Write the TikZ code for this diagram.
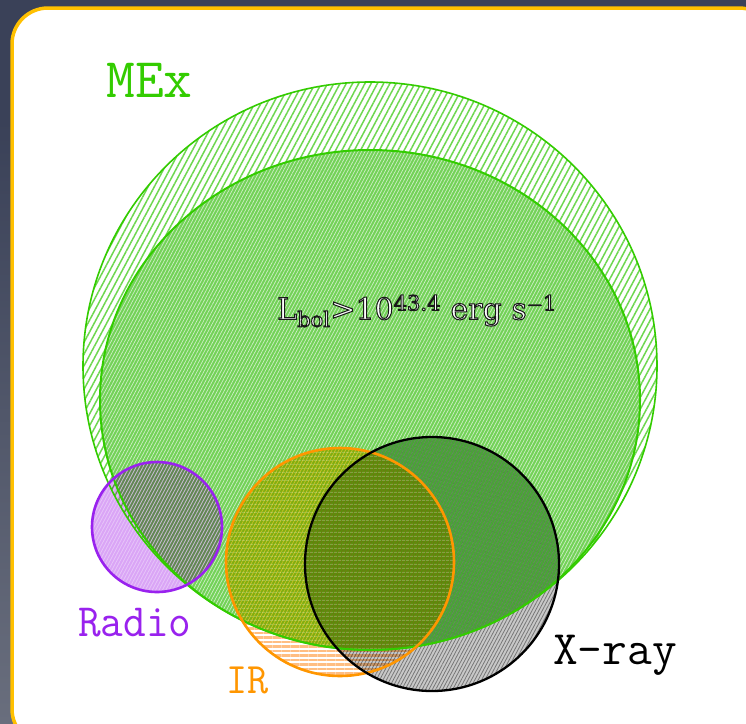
\documentclass[tikz,border=0pt]{standalone}
\usepackage{fontspec}
\usetikzlibrary{patterns.meta}
\newfontfamily\halofont{DejaVu Serif}
\definecolor{bgdark}{RGB}{58,65,88}
\definecolor{bglight}{RGB}{105,110,125}
\definecolor{panelborder}{RGB}{255,192,0}
\definecolor{megreen}{RGB}{51,204,0}
\definecolor{hatchgreen}{RGB}{110,215,80}
\definecolor{innergreen}{RGB}{115,210,88}
\definecolor{radiofill}{RGB}{218,165,246}
\definecolor{radioline}{RGB}{153,34,238}
\definecolor{irline}{RGB}{255,150,0}
\definecolor{irfill}{RGB}{255,215,60}
\definecolor{irtint}{RGB}{200,160,0}
\definecolor{irstripe}{RGB}{255,190,130}
\definecolor{xfill}{RGB}{200,200,200}
\definecolor{xin}{RGB}{165,200,160}
\tikzset{
  setline/.style={line width=2.6pt},
  lbl/.style={inner sep=0pt, anchor=base west},
  halo/.style={inner sep=0pt, text=white, font=\halofont\fontsize{30}{34}\selectfont},
  xhatch/.style={pattern={Lines[angle=62,distance=3pt,line width=0.8pt]}},
}
\newcommand{\lbltext}{L\textsubscript{bol}>10\textsuperscript{43.4} erg s\textsuperscript{$-$1}}
\newcommand{\outlined}[1]{\special{pdf:literal direct 2 Tr 1.0 w 1 1 1 rg 0.1 0.1 0.1 RG}#1\special{pdf:literal direct 0 Tr}}
\newcommand{\innerell}{(370,400) ellipse [x radius=270, y radius=250]}
\begin{document}
\begin{tikzpicture}[x=1pt,y=-1pt]
\useasboundingbox (0,0) rectangle (746,723);
% background
\fill[bgdark] (0,0) rectangle (746,723);
\shade[top color=bgdark, bottom color=bglight] (0,120) rectangle (14,723);
% panel
\draw[panelborder, line width=3.5pt, fill=white, rounded corners=36pt] (12,8) rectangle (775,745);

% outer MEx ellipse (hatched)
\path[pattern={Lines[angle=62,distance=5.5pt,line width=1.5pt]}, pattern color=hatchgreen]
  (370,366) ellipse [x radius=287, y radius=284];
% inner ellipse
\fill[innergreen] \innerell;
\path[pattern={Lines[angle=62,distance=3pt,line width=0.7pt]}, pattern color=white!65!innergreen] \innerell;

% overlapping sets
\begin{scope}[blend mode=multiply]
  \fill[radiofill] (157,527) circle [radius=65];
  % inside MEx
  \begin{scope}
    \clip \innerell;
    \fill[xin] (432,564) circle [radius=127];
    \path[xhatch, pattern color=black!25] (432,564) circle [radius=127];
    \fill[irfill] (340,562) circle [radius=114];
  \end{scope}
  % outside MEx
  \begin{scope}[even odd rule]
    \clip (0,0) rectangle (746,723) \innerell;
    \fill[xfill] (432,564) circle [radius=127];
    \path[xhatch, pattern color=black!40] (432,564) circle [radius=127];
    \path[pattern={Lines[angle=0,distance=4.5pt,line width=2.2pt]}, pattern color=irstripe]
      (340,562) circle [radius=114];
  \end{scope}
\end{scope}
\begin{scope}
  \clip \innerell;
  \fill[irtint, opacity=0.15] (340,562) circle [radius=114];
  \path[pattern={Lines[angle=0,distance=4pt,line width=1.2pt]}, pattern color=white, opacity=0.22]
    (340,562) circle [radius=114];
\end{scope}
\path[pattern={Lines[angle=62,distance=3pt,line width=0.8pt]}, pattern color=white, opacity=0.35]
  (157,527) circle [radius=65];

% set outlines
\draw[megreen, line width=1.6pt] (370,366) ellipse [x radius=287, y radius=284];
\draw[megreen, line width=2pt] \innerell;
\draw[radioline, setline] (157,527) circle [radius=65];
\draw[irline, setline] (340,562) circle [radius=114];
\draw[black, line width=2.3pt] (432,564) circle [radius=127];

% labels
\node[lbl, text=megreen, font=\ttfamily\fontsize{56}{56}\selectfont] (mex) at (106,97) {MEx};
\node[lbl, text=radioline, font=\ttfamily\fontsize{44}{44}\selectfont, yscale=1.05] (radio) at (78,636) {Radio};
\node[lbl, text=irline, font=\ttfamily\fontsize{41}{41}\selectfont, yscale=1.06] (ir) at (226,693) {IR};
\node[lbl, text=black, font=\ttfamily\fontsize{48}{48}\selectfont] (xray) at (553,664) {X-ray};

% haloed luminosity label
\node[halo] (lbol) at (417,311) {\outlined{\lbltext}};
\end{tikzpicture}
\end{document}
